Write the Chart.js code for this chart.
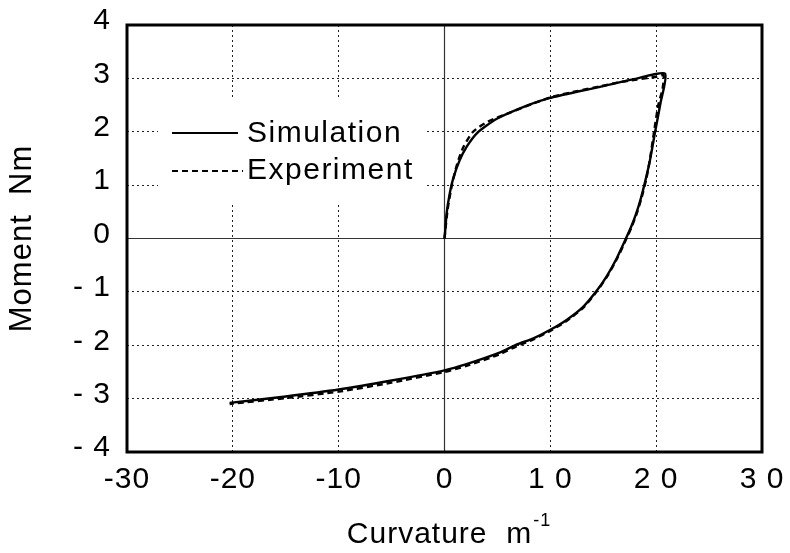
<!DOCTYPE html>
<html>
<head>
<meta charset="utf-8">
<script src="https://cdn.jsdelivr.net/npm/chart.js@4"></script>
<style>
  html, body { margin: 0; padding: 0; background: #fff; }
  #wrap { width: 790px; height: 553px; }
</style>
</head>
<body>
<div id="wrap"><canvas id="momentoChart" width="790" height="553"></canvas></div>
<script>
// Curva de simulação (carga + descarga)
var simX = [0, 0.05, 0.2, 0.5, 0.83, 1.4, 2.1, 3.1, 4.9, 7.9, 9.9, 12.5, 14.7, 17.8, 20.84,
            20.4, 19.9, 19.42, 19.0, 18.55, 18.1, 17.6, 17.1, 16.3, 15.35, 14.38, 13.1, 11.5, 10.0, 8.4, 6.8, 5.2, 2.0, 0, -5, -10, -15, -20.3];
var simY = [0, 0.1, 0.47, 0.85, 1.13, 1.45, 1.72, 1.98, 2.24, 2.5, 2.63, 2.75, 2.84, 2.98, 3.09,
            2.53, 2.0, 1.47, 1.1, 0.75, 0.46, 0.2, -0.02, -0.36, -0.7, -0.98, -1.28, -1.53, -1.71, -1.87, -1.99, -2.14, -2.36, -2.47, -2.66, -2.83, -2.96, -3.08];

// Curva experimental
var expX = [0, 0.3, 0.7, 1.2, 1.8, 2.7, 4.1, 6.2, 8.4, 10.1, 12.5, 14.7, 16.3, 18.2, 20.05, 20.7,
            20.6, 20.2, 19.8, 19.4, 19.05, 18.6, 18.15, 17.65, 17.15, 16.35, 15.4, 14.4, 13.1, 11.5, 10.0, 8.4, 6.8, 5.2, 2.0, 0, -5, -10, -15, -20.3];
var expY = [0, 0.55, 1.0, 1.4, 1.72, 2.0, 2.19, 2.36, 2.53, 2.65, 2.76, 2.85, 2.92, 2.98, 3.03, 3.06,
            2.8, 2.5, 2.0, 1.47, 1.1, 0.75, 0.46, 0.2, -0.02, -0.36, -0.7, -0.99, -1.3, -1.55, -1.73, -1.89, -2.02, -2.17, -2.39, -2.5, -2.7, -2.87, -2.99, -3.1];

// Rótulos dos eixos
var xTickLabels = {'-30': '-30', '-20': '-20', '-10': '-10', '0': '0', '10': '1 0', '20': '2 0', '30': '3 0'};
var yTickLabels = {'4': '4', '3': '3', '2': '2', '1': '1', '0': '0', '-1': '- 1', '-2': '- 2', '-3': '- 3', '-4': '- 4'};
var seriesNames = ['Simulation', 'Experiment'];

var FONT = '"Liberation Sans", Arial, Helvetica, sans-serif';

function pontos(xs, ys) {
    return xs.map(function (x, i) { return { x: x, y: ys[i] }; });
}

// Espaçamento entre letras, como no original
var espacamento = {
    id: 'espacamento',
    beforeLayout: function (chart) { chart.ctx.letterSpacing = '1px'; },
    beforeDraw: function (chart) { chart.ctx.letterSpacing = '1px'; }
};

// Linhas do zero, moldura, legenda e título do eixo x
var extras = {
    id: 'extras',
    beforeDatasetsDraw: function (chart) {
        var ctx = chart.ctx, a = chart.chartArea;
        var x0 = chart.scales.x.getPixelForValue(0);
        var y0 = chart.scales.y.getPixelForValue(0);
        ctx.save();
        ctx.strokeStyle = '#333';
        ctx.lineWidth = 1.2;
        ctx.beginPath();
        ctx.moveTo(x0, a.top); ctx.lineTo(x0, a.bottom);
        ctx.moveTo(a.left, y0); ctx.lineTo(a.right, y0);
        ctx.stroke();
        // caixa da legenda
        ctx.fillStyle = '#fff';
        ctx.fillRect(a.left + 31, a.top + 75, 269, 103);
        ctx.restore();
    },
    afterDatasetsDraw: function (chart) {
        var ctx = chart.ctx, a = chart.chartArea;
        ctx.save();
        // legenda
        ctx.strokeStyle = '#000';
        ctx.lineWidth = 2.2;
        ctx.beginPath();
        ctx.moveTo(a.left + 45, a.top + 108); ctx.lineTo(a.left + 111, a.top + 108);
        ctx.stroke();
        ctx.setLineDash([6, 4]);
        ctx.beginPath();
        ctx.moveTo(a.left + 45, a.top + 146); ctx.lineTo(a.left + 116, a.top + 146);
        ctx.stroke();
        ctx.setLineDash([]);
        ctx.fillStyle = '#000';
        ctx.font = '30px ' + FONT;
        ctx.letterSpacing = '1.5px';
        ctx.textBaseline = 'middle';
        ctx.textAlign = 'left';
        ctx.fillText(seriesNames[0], a.left + 120, a.top + 109);
        ctx.fillText(seriesNames[1], a.left + 120, a.top + 146);
        // moldura
        ctx.lineWidth = 3;
        ctx.strokeRect(a.left, a.top, a.right - a.left, a.bottom - a.top);
        // título do eixo x com expoente
        ctx.letterSpacing = '1px';
        ctx.textBaseline = 'alphabetic';
        ctx.font = '30px ' + FONT;
        var base = 'Curvature  m';
        var w = ctx.measureText(base).width;
        ctx.font = '18px ' + FONT;
        var w2 = ctx.measureText('-1').width;
        var sx = (a.left + a.right) / 2 - (w + w2) / 2 + 4;
        ctx.font = '30px ' + FONT;
        ctx.fillText(base, sx, 543);
        ctx.font = '18px ' + FONT;
        ctx.fillText('-1', sx + w + 1, 526);
        ctx.restore();
    }
};

document.addEventListener('DOMContentLoaded', function () {
    var ctx = document.getElementById('momentoChart').getContext('2d');
    var momentoChart = new Chart(ctx, {
        type: 'scatter',
        data: {
            datasets: [{
                label: seriesNames[0],
                data: pontos(simX, simY),
                showLine: true,
                borderColor: '#000',
                borderWidth: 2.4,
                pointRadius: 0,
                tension: 0.2
            }, {
                label: seriesNames[1],
                data: pontos(expX, expY),
                showLine: true,
                borderColor: '#000',
                borderWidth: 2.4,
                borderDash: [6, 4],
                pointRadius: 0,
                tension: 0.2
            }]
        },
        options: {
            responsive: false,
            animation: false,
            layout: { padding: { left: 0, top: 25, right: 28, bottom: 0 } },
            plugins: {
                legend: { display: false },
                tooltip: { enabled: false }
            },
            scales: {
                x: {
                    type: 'linear',
                    min: -30,
                    max: 30,
                    afterFit: function (s) {
                        s.height = 101;
                        s.paddingLeft = 0;
                        s.paddingRight = 0;
                    },
                    ticks: {
                        stepSize: 10,
                        color: '#000',
                        padding: 10,
                        maxRotation: 0,
                        font: { family: FONT, size: 30 },
                        callback: function (v) { return xTickLabels[String(v)]; }
                    },
                    grid: { color: '#222', lineWidth: 1, drawTicks: false },
                    border: { display: false, dash: [2, 3] }
                },
                y: {
                    type: 'linear',
                    min: -4,
                    max: 4,
                    afterFit: function (s) {
                        s.width = 127;
                        s.paddingTop = 0;
                        s.paddingBottom = 0;
                    },
                    title: {
                        display: true,
                        text: 'Moment  Nm',
                        color: '#000',
                        font: { family: FONT, size: 31 },
                        padding: { top: 4, bottom: 0 }
                    },
                    ticks: {
                        stepSize: 1,
                        color: '#000',
                        padding: 16,
                        labelOffset: -4,
                        font: { family: FONT, size: 30 },
                        callback: function (v) { return yTickLabels[String(v)]; }
                    },
                    grid: { color: '#222', lineWidth: 1, drawTicks: false },
                    border: { display: false, dash: [2, 3] }
                }
            }
        },
        plugins: [espacamento, extras]
    });
});
</script>
</body>
</html>
